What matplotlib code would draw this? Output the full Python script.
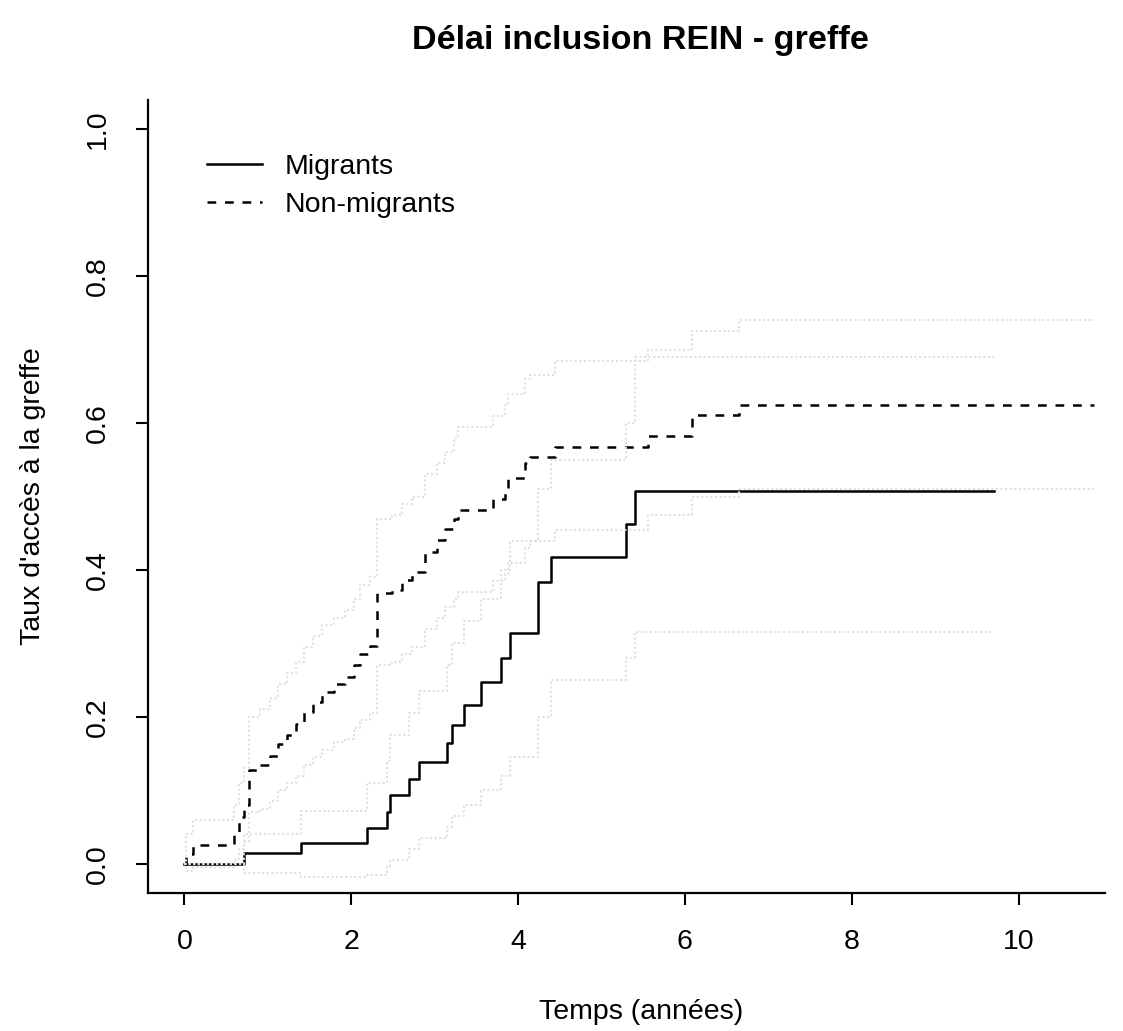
import matplotlib
matplotlib.use("Agg")
import matplotlib.pyplot as plt
from matplotlib.lines import Line2D

plt.rcParams['font.family'] = ['Liberation Sans', 'DejaVu Sans']

# Migrants: cumulative incidence (step times / values) and 95% CI
mig_t = [0, 0.71, 1.40, 2.19, 2.43, 2.47, 2.69, 2.81, 3.15, 3.21, 3.35, 3.56,
         3.80, 3.90, 4.24, 4.39, 5.29, 5.40, 9.70]
mig_v = [0, 0.014, 0.028, 0.049, 0.070, 0.093, 0.115, 0.138, 0.164, 0.189,
         0.216, 0.247, 0.280, 0.314, 0.383, 0.418, 0.462, 0.508, 0.508]
mig_lo = [0, -0.013, -0.018, -0.015, -0.005, 0.005, 0.020, 0.035, 0.050, 0.065,
          0.080, 0.100, 0.120, 0.145, 0.200, 0.250, 0.280, 0.315, 0.315]
mig_hi = [0, 0.041, 0.072, 0.110, 0.140, 0.175, 0.205, 0.235, 0.270, 0.300,
          0.330, 0.360, 0.400, 0.440, 0.510, 0.550, 0.600, 0.690, 0.690]

# Non-migrants
nm_t = [0, 0.02, 0.10, 0.59, 0.65, 0.71, 0.77, 0.91, 1.03, 1.12, 1.23, 1.34,
        1.43, 1.54, 1.65, 1.79, 1.93, 2.03, 2.11, 2.23, 2.31, 2.49, 2.61, 2.73,
        2.89, 3.03, 3.13, 3.23, 3.28, 3.70, 3.84, 3.88, 4.08, 4.14, 4.44, 5.56,
        6.08, 6.65, 10.90]
nm_v = [0, 0.013, 0.026, 0.040, 0.063, 0.080, 0.127, 0.134, 0.147, 0.163,
        0.175, 0.190, 0.206, 0.220, 0.234, 0.244, 0.254, 0.270, 0.285, 0.296,
        0.368, 0.372, 0.386, 0.397, 0.425, 0.441, 0.456, 0.470, 0.482, 0.496,
        0.509, 0.525, 0.545, 0.554, 0.568, 0.582, 0.611, 0.625, 0.625]
nm_lo = [0, -0.010, -0.005, 0.005, 0.020, 0.030, 0.070, 0.075, 0.085, 0.100,
         0.110, 0.120, 0.135, 0.145, 0.155, 0.165, 0.170, 0.185, 0.195, 0.205,
         0.270, 0.275, 0.285, 0.295, 0.320, 0.335, 0.350, 0.360, 0.370, 0.385,
         0.395, 0.410, 0.430, 0.440, 0.455, 0.475, 0.500, 0.510, 0.510]
nm_hi = [0, 0.040, 0.060, 0.080, 0.110, 0.130, 0.200, 0.210, 0.225, 0.245,
         0.260, 0.275, 0.295, 0.310, 0.325, 0.335, 0.345, 0.360, 0.380, 0.390,
         0.470, 0.475, 0.490, 0.500, 0.530, 0.545, 0.560, 0.580, 0.595, 0.610,
         0.625, 0.640, 0.660, 0.665, 0.685, 0.700, 0.725, 0.740, 0.740]

labels = ["Migrants", "Non-migrants"]
x_ticks = [0, 2, 4, 6, 8, 10]
y_ticks = [0.0, 0.2, 0.4, 0.6, 0.8, 1.0]

W, H = 1123, 1031
fig = plt.figure(figsize=(W / 100, H / 100), dpi=100)
ax = fig.add_axes([148 / W, 1 - 893 / H, 982 / W, 793 / H])

ci_style = dict(color='#e0e0e0', lw=1.5, linestyle=(0, (1, 1.2)), zorder=3)
ax.step(mig_t, mig_v, where='post', color='black', lw=1.8, zorder=2)
ax.step(nm_t, nm_v, where='post', color='black', lw=1.8,
        linestyle=(0, (3.5, 3.5)), zorder=2)
for band in (mig_lo, mig_hi):
    ax.step(mig_t, band, where='post', **ci_style)
for band in (nm_lo, nm_hi):
    ax.step(nm_t, band, where='post', **ci_style)

ax.set_xlim(-0.436, 11.336)
ax.set_ylim(-0.04, 1.04)
ax.spines['top'].set_visible(False)
ax.spines['right'].set_visible(False)
for s in ('left', 'bottom'):
    ax.spines[s].set_linewidth(1.6)
ax.spines['bottom'].set_bounds(-0.436, 11.04)

ax.set_xticks(x_ticks)
ax.set_xticklabels([str(v) for v in x_ticks])
ax.set_yticks(y_ticks)
ax.set_yticklabels(["%.1f" % v for v in y_ticks])
ax.tick_params(axis='both', direction='out', length=8.6, width=1.5,
               labelsize=20.5)
ax.tick_params(axis='x', pad=17.5)
ax.tick_params(axis='y', pad=18, labelrotation=90)
for lbl in ax.get_yticklabels():
    lbl.set_va('center')

ax.set_xlabel("Temps (années)", fontsize=20.5)
ax.xaxis.set_label_coords((641 - 148) / 982, -0.134)
ax.set_ylabel("Taux d'accès à la greffe", fontsize=20.5)
ax.yaxis.set_label_coords(-0.104, 0.5)

fig.text(640 / W, 1 - 40 / H, "Délai inclusion REIN - greffe",
         ha='center', va='center', fontsize=24.6, fontweight='bold')

handles = [Line2D([], [], color='black', lw=1.8),
           Line2D([], [], color='black', lw=1.8, linestyle=(0, (3.5, 3.5)))]
ax.legend(handles, labels, loc='upper left', bbox_to_anchor=(0.060, 0.932),
          frameon=False, fontsize=20.5, handlelength=1.93,
          handletextpad=0.8, labelspacing=0.42, borderpad=0,
          borderaxespad=0)

plt.savefig("out.png", dpi=100)
